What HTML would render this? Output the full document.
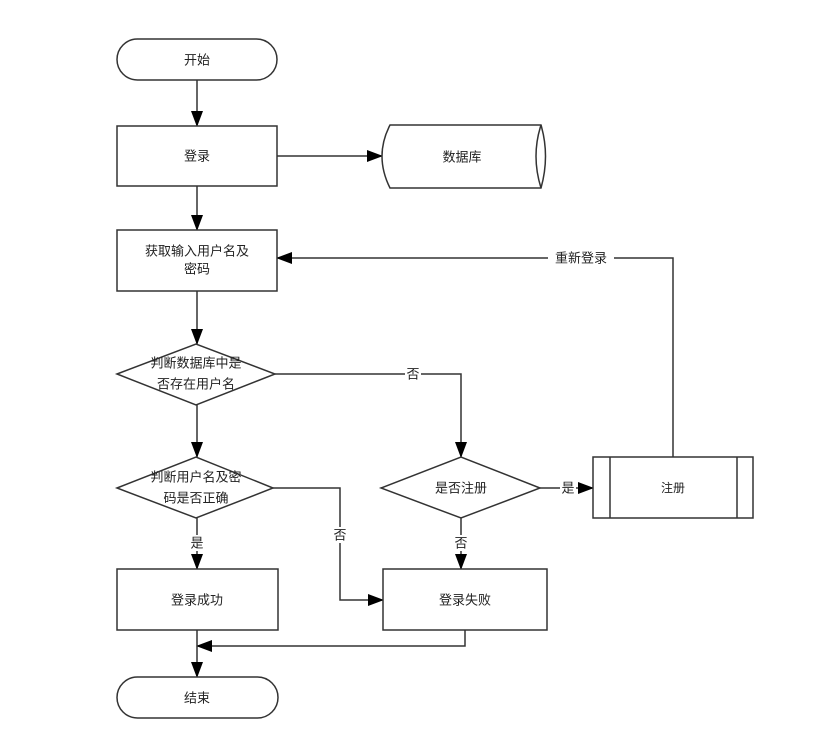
<!DOCTYPE html>
<html><head><meta charset="utf-8"><style>
html,body{margin:0;padding:0;background:#fff;}
svg{display:block;}
text{font-family:"Liberation Sans","Noto Sans CJK SC",sans-serif;font-size:13px;fill:#222;text-anchor:middle;dominant-baseline:central;}
.s{fill:#fff;stroke:#333;stroke-width:1.5;}
.l{fill:none;stroke:#333;stroke-width:1.5;}
</style></head><body>
<svg width="828" height="729" viewBox="0 0 828 729">
<defs><marker id="a" markerWidth="10" markerHeight="10" refX="9" refY="5" orient="auto" markerUnits="userSpaceOnUse"><path d="M0,0 L10,5 L0,10z" fill="#000"/></marker>
<marker id="b" markerWidth="16" markerHeight="12" refX="15" refY="6" orient="auto" markerUnits="userSpaceOnUse"><path d="M0,0 L16,6 L0,12z" fill="#000"/></marker></defs>

<!-- connectors -->
<line class="l" x1="197" y1="80" x2="197" y2="126" marker-end="url(#b)"/>
<line class="l" x1="277" y1="156" x2="382" y2="156" marker-end="url(#b)"/>
<line class="l" x1="197" y1="186" x2="197" y2="230" marker-end="url(#b)"/>
<line class="l" x1="197" y1="291" x2="197" y2="344" marker-end="url(#b)"/>
<polyline class="l" points="275,374 461,374 461,457" marker-end="url(#b)"/>
<line class="l" x1="197" y1="405" x2="197" y2="457" marker-end="url(#b)"/>
<polyline class="l" points="273,488 340,488 340,600 383,600" marker-end="url(#b)"/>
<line class="l" x1="197" y1="518" x2="197" y2="569" marker-end="url(#b)"/>
<line class="l" x1="461" y1="518" x2="461" y2="569" marker-end="url(#b)"/>
<line class="l" x1="540" y1="488" x2="593" y2="488" marker-end="url(#b)"/>
<polyline class="l" points="673,457 673,258 277,258" marker-end="url(#b)"/>
<polyline class="l" points="465,630 465,646 197,646" marker-end="url(#b)"/>
<line class="l" x1="197" y1="630" x2="197" y2="677" marker-end="url(#b)"/>

<!-- shapes -->
<rect class="s" x="117" y="39" width="160" height="41" rx="20.5"/>
<text x="197" y="60">开始</text>
<rect class="s" x="117" y="126" width="160" height="60"/>
<text x="197" y="156">登录</text>
<path class="s" d="M390,125 L541,125 Q550,156 541,188 L390,188 Q374,156 390,125z"/>
<path class="l" d="M541,125 Q531,156 541,188"/>
<text x="462" y="157">数据库</text>
<rect class="s" x="117" y="230" width="160" height="61"/>
<text x="197" y="251">获取输入用户名及</text>
<text x="197" y="269">密码</text>
<polygon class="s" points="117,374 196,344 275,374 196,405"/>
<text x="196" y="363">判断数据库中是</text>
<text x="196" y="384">否存在用户名</text>
<polygon class="s" points="117,488 196,457 273,488 196,518"/>
<text x="196" y="477">判断用户名及密</text>
<text x="196" y="498">码是否正确</text>
<polygon class="s" points="381,488 461,457 540,488 461,518"/>
<text x="461" y="488">是否注册</text>
<rect class="s" x="593" y="457" width="160" height="61"/>
<line class="l" x1="610" y1="457" x2="610" y2="518"/>
<line class="l" x1="737" y1="457" x2="737" y2="518"/>
<text x="673" y="488" style="font-size:12px">注册</text>
<rect class="s" x="117" y="569" width="161" height="61"/>
<text x="197" y="600">登录成功</text>
<rect class="s" x="383" y="569" width="164" height="61"/>
<text x="465" y="600">登录失败</text>
<rect class="s" x="117" y="677" width="161" height="41" rx="20.5"/>
<text x="197" y="698">结束</text>

<!-- labels -->
<rect x="405" y="366" width="16" height="16" fill="#fff"/><text x="413" y="374">否</text>
<rect x="548" y="250" width="66" height="16" fill="#fff"/><text x="581" y="258">重新登录</text>
<rect x="560" y="480" width="16" height="16" fill="#fff"/><text x="568" y="488">是</text>
<rect x="332" y="527" width="16" height="16" fill="#fff"/><text x="340" y="535">否</text>
<rect x="189" y="535" width="16" height="16" fill="#fff"/><text x="197" y="543">是</text>
<rect x="453" y="535" width="16" height="16" fill="#fff"/><text x="461" y="543">否</text>
</svg>
</body></html>
